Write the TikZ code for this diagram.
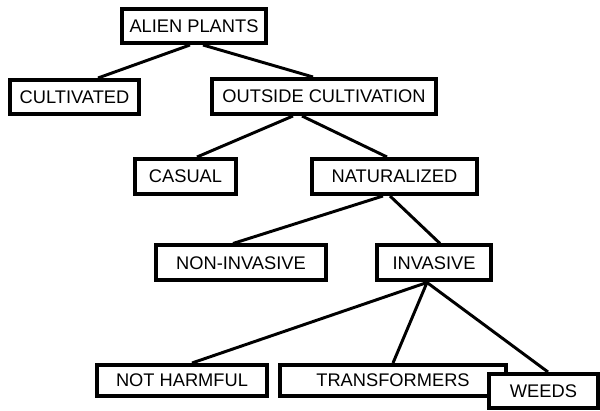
\documentclass[tikz,border=0pt]{standalone}
\usepackage{fontspec}
\setmainfont{Liberation Sans}
\usepackage{tikz}

\begin{document}
\begin{tikzpicture}
      \tikzstyle{box} = [
        rectangle,
        draw,
        fill=white,
        line width=2.85pt,
        text centered,
        inner sep=0pt,
        font=\fontsize{13}{15}\selectfont,
        minimum height=0.875cm
      ]

      \tikzstyle{link} = [
        draw,
        line width=2.1pt
      ]

      \useasboundingbox (0,0) rectangle (15,10.275);

      \node[box, minimum width=3.6cm, minimum height=0.85cm] (alien) at (4.85,9.625) {ALIEN PLANTS};
      \node[box, minimum width=3.225cm, minimum height=0.85cm] (cultivated) at (1.8625,7.85) {CULTIVATED};
      \node[box, minimum width=5.6cm] (outside) at (8.1,7.8625) {OUTSIDE CULTIVATION};
      \node[box, minimum width=2.525cm] (casual) at (4.6375,5.8625) {CASUAL};
      \node[box, minimum width=4.125cm] (naturalized) at (9.8625,5.8625) {NATURALIZED};
      \node[box, minimum width=4.25cm] (noninvasive) at (6.025,3.7) {NON-INVASIVE};
      \node[box, minimum width=2.85cm] (invasive) at (10.85,3.7) {INVASIVE};
      \node[box, minimum width=4.25cm, minimum height=0.775cm] (notharmful) at (4.55,0.7625) {NOT HARMFUL};
      \node[box, minimum width=5.65cm, minimum height=0.775cm] (transformers) at (9.825,0.7625) {TRANSFORMERS};
      \node[box, minimum width=2.725cm, minimum height=0.85cm] (weeds) at (13.5875,0.5) {WEEDS};

      \draw[link] ([xshift=-0.1cm]alien.south) -- ([xshift=0.5875cm]cultivated.north);
      \draw[link] ([xshift=0.225cm]alien.south) -- ([xshift=-0.275cm]outside.north);
      \draw[link] ([xshift=-0.775cm]outside.south) -- ([xshift=0.2875cm]casual.north);
      \draw[link] ([xshift=-0.55cm]outside.south) -- ([xshift=-0.1875cm]naturalized.north);
      \draw[link] ([xshift=-0.2875cm]naturalized.south) -- ([xshift=-0.2cm]noninvasive.north);
      \draw[link] ([xshift=-0.1125cm]naturalized.south) -- ([xshift=0.15cm]invasive.north);
      \draw[link] ([xshift=-0.175cm]invasive.south) -- ([xshift=0.25cm]notharmful.north);
      \draw[link] ([xshift=-0.175cm]invasive.south) -- (transformers.north);
      \draw[link] ([xshift=-0.175cm]invasive.south) -- ([xshift=0.1125cm]weeds.north);
    \end{tikzpicture}
\end{document}
